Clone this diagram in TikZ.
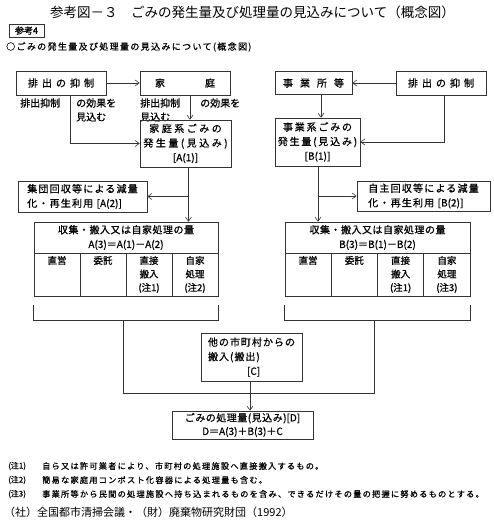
\documentclass[tikz,border=0pt]{standalone}
\usepackage{fontspec}
\setmainfont{Noto Sans CJK JP}
\usetikzlibrary{arrows.meta,calc}
\newcommand\fsz[2]{\fontsize{#1}{#2}\selectfont}
\newcommand\lsp[1]{\addfontfeature{LetterSpace=#1}}
\newcommand\nsp[1]{{\addfontfeature{LetterSpace=0}#1}}
\newcommand\fb{\addfontfeature{FakeBold=0.7}}
\tikzset{
  ln/.style={line width=0.7pt, draw=black!80},
  box/.style={ln, draw, rectangle, inner sep=0pt, align=center, font=\fsz{10}{14.5}\fb},
  arr/.style={ln, -{Straight Barb[length=4pt,width=6pt,line width=0.6pt]}},
  txt/.style={inner sep=0pt, font=\fsz{10}{14}\fb},
  cell/.style={box, minimum width=46pt, minimum height=43pt, font=\fsz{9.5}{13.5}\fb},
}
\begin{document}
\begin{tikzpicture}[x=1pt,y=-1pt]
\fill[white] (0,0) rectangle (494,525);
\useasboundingbox (0,0) rectangle (494,525);
% headings
\node[anchor=west, inner sep=0pt, font=\fsz{13.5}{16}] (title) at (50,12) {参考図－３　ごみの発生量及び処理量の見込みについて（概念図）};
\node[ln, draw, minimum width=35pt, minimum height=13pt, inner sep=0pt, font=\fsz{9}{10}\addfontfeature{FakeBold=1.5}] (ref) at (26.5,30.5) {参考4};
\node[anchor=west, inner sep=0pt, font=\fsz{9}{11}\lsp{15}\fb] (sub) at (6,47) {○ごみの発生量及び処理量の見込みについて(概念図)};
% left column
\node[box, minimum width=90pt, minimum height=24pt] (s1) at (61,83) {排\hspace{4pt}出\hspace{4pt}の\hspace{4pt}抑\hspace{4pt}制};
\node[box, minimum width=90pt, minimum height=24pt] (ka) at (185,83) {家\hspace{40pt}庭};
\node[txt, anchor=west] (t1) at (20,103) {排出抑制};
\node[txt, anchor=west] (t2) at (76,103) {の効果を};
\node[txt, anchor=west] (t3) at (76,117) {見込む};
\node[txt, anchor=west] (t4) at (140,103) {排出抑制};
\node[txt, anchor=west] (t5) at (200,103) {の効果を};
\node[txt, anchor=west] (t6) at (140,117) {見込む};
\node[box, minimum width=91pt, minimum height=47pt, font=\fsz{10}{14.5}\lsp{25}\fb] (ka2) at (185.5,143.5) {家庭系ごみの\\発生量(見込み)\\\nsp{[A(1)]}};
\node[box, minimum width=129pt, minimum height=31pt, align=left, font=\fsz{10}{14.5}\lsp{12}\fb] (sh) at (82.5,196.5) {集団回収等による減量\\化・再生利用 \nsp{[A(2)]}};
\node[box, minimum width=184pt, minimum height=31pt, font=\fsz{10}{14.5}\lsp{5}\fb] (ta) at (126,237.5) {収集・搬入又は自家処理の量\\\nsp{A(3)＝A(1)－A(2)}};
\node[cell] (ta1) at (57,274.5) {直営\\\phantom{搬入}\\\phantom{(注1)}};
\node[cell] (ta2) at (103,274.5) {委託\\\phantom{搬入}\\\phantom{(注1)}};
\node[cell] (ta3) at (149,274.5) {直接\\搬入\\(注1)};
\node[cell] (ta4) at (195,274.5) {自家\\処理\\(注2)};
% right column
\node[box, minimum width=77pt, minimum height=23pt] (jg) at (313.5,83) {事\hspace{7pt}業\hspace{7pt}所\hspace{7pt}等};
\node[box, minimum width=90pt, minimum height=24pt] (s2) at (441,83) {排\hspace{4pt}出\hspace{4pt}の\hspace{4pt}抑\hspace{4pt}制};
\node[box, minimum width=85pt, minimum height=48pt, font=\fsz{10}{14.5}\lsp{18}\fb] (jk) at (317.5,142) {事業系ごみの\\発生量(見込み)\\\nsp{[B(1)]}};
\node[box, minimum width=133pt, minimum height=30pt, align=left, font=\fsz{10}{14.5}\lsp{12}\fb] (jz) at (423.5,196) {自主回収等による減量\\化・再生利用 \nsp{[B(2)]}};
\node[box, minimum width=185pt, minimum height=31pt, font=\fsz{10}{14.5}\lsp{5}\fb] (tb) at (377.5,237.5) {収集・搬入又は自家処理の量\\\nsp{B(3)＝B(1)－B(2)}};
\node[cell, minimum width=46.25pt] (tb1) at (308.1,274.5) {直営\\\phantom{搬入}\\\phantom{(注1)}};
\node[cell, minimum width=46.25pt] (tb2) at (354.4,274.5) {委託\\\phantom{搬入}\\\phantom{(注1)}};
\node[cell, minimum width=46.25pt] (tb3) at (400.6,274.5) {直接\\搬入\\(注1)};
\node[cell, minimum width=46.25pt] (tb4) at (446.9,274.5) {自家\\処理\\(注3)};
% bottom
\node[box, minimum width=101pt, minimum height=48pt, align=left, font=\fsz{10}{14.5}\lsp{10}\fb] (c) at (251.5,357) {他の市町村からの\\搬入(搬出)\\\hspace*{39pt}\nsp{[C]}};
\node[box, minimum width=141pt, minimum height=28pt, font=\fsz{10}{13.5}\lsp{5}\fb] (d) at (242.5,425) {ごみの処理量(見込み)\nsp{[D]}\\\nsp{D＝A(3)＋B(3)＋C}};
% notes
\node[anchor=west, inner sep=0pt, font=\fsz{8}{10}\fb] (n1l) at (8,466) {(注1)};
\node[anchor=west, inner sep=0pt, font=\fsz{8.2}{10}\lsp{15}\fb] (n1) at (42,466) {自ら又は許可業者により、市町村の処理施設へ直接搬入するもの。};
\node[anchor=west, inner sep=0pt, font=\fsz{8}{10}\fb] (n2l) at (8,480) {(注2)};
\node[anchor=west, inner sep=0pt, font=\fsz{8.2}{10}\lsp{15}\fb] (n2) at (42,480) {簡易な家庭用コンポスト化容器による処理量も含む。};
\node[anchor=west, inner sep=0pt, font=\fsz{8}{10}\fb] (n3l) at (8,494) {(注3)};
\node[anchor=west, inner sep=0pt, font=\fsz{8.2}{10}\lsp{15}\fb] (n3) at (42,494) {事業所等から民間の処理施設へ持ち込まれるものを含み、できるだけその量の把握に努めるものとする。};
\node[anchor=west, inner sep=0pt, font=\fsz{11}{13}] (cit) at (4,512) {（社）全国都市清掃会議・（財）廃棄物研究財団（1992）};
% connectors left
\draw[arr] (s1) -- (ka);
\draw[arr] ([xshift=9pt]s1.south) |- (ka2.west);
\draw[arr] ([xshift=5pt]ka.south) -- ([xshift=5pt]ka.south |- ka2.north);
\draw[arr] ([xshift=3pt]ka2.south) -- ([xshift=3pt]ka2.south |- ta.north);
\draw[arr] ([xshift=3pt]ka2.south |- sh.east) -- (sh.east);
% connectors right
\draw[arr] (s2) -- (jg);
\draw[arr] ([xshift=3pt]s2.south) |- (jk.east);
\draw[arr] ([xshift=7.5pt]jg.south) -- ([xshift=7.5pt]jg.south |- jk.north);
\draw[arr] ([xshift=0.5pt]jk.south) -- ([xshift=0.5pt]jk.south |- tb.north);
\draw[arr] ([xshift=0.5pt]jk.south |- jz.west) -- (jz.west);
% brackets
\draw[ln] ([yshift=-9pt]ta1.south west) -- ([yshift=-24pt]ta1.south west) -- ([yshift=-24pt]ta4.south east) -- ([yshift=-9pt]ta4.south east);
\draw[ln] ([yshift=-9pt]tb1.south west) -- ([yshift=-24pt]tb1.south west) -- ([yshift=-24pt]tb4.south east) -- ([yshift=-9pt]tb4.south east);
\coordinate (bl) at (123,320);
\coordinate (br) at (374,320);
\draw[ln] (bl) -- ++(0,73) -| (br);
\draw[arr] ([xshift=-1.5pt]c.south) -- ([xshift=-1.5pt]c.south |- d.north);
\end{tikzpicture}
\end{document}
